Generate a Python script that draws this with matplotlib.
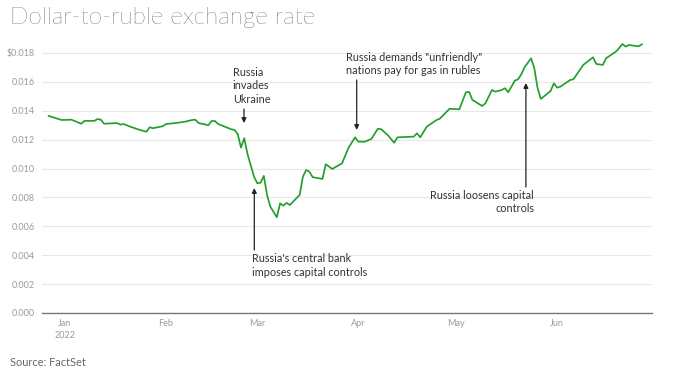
import matplotlib
matplotlib.use("Agg")
import matplotlib.pyplot as plt
import pandas as pd

# ---- data -------------------------------------------------------------
dates = [
    "2021-12-27", "2021-12-31", "2022-01-03", "2022-01-06", "2022-01-07", "2022-01-10",
    "2022-01-11", "2022-01-12", "2022-01-13", "2022-01-17", "2022-01-18", "2022-01-19",
    "2022-01-21", "2022-01-24", "2022-01-26", "2022-01-27", "2022-01-28", "2022-01-31",
    "2022-02-01", "2022-02-04", "2022-02-07", "2022-02-09", "2022-02-10", "2022-02-11",
    "2022-02-14", "2022-02-15", "2022-02-16", "2022-02-17", "2022-02-21", "2022-02-22",
    "2022-02-23", "2022-02-24", "2022-02-25", "2022-02-26", "2022-02-28", "2022-03-01",
    "2022-03-02", "2022-03-03", "2022-03-04", "2022-03-05", "2022-03-07", "2022-03-08",
    "2022-03-09", "2022-03-10", "2022-03-11", "2022-03-14", "2022-03-15", "2022-03-16",
    "2022-03-17", "2022-03-18", "2022-03-21", "2022-03-22", "2022-03-24", "2022-03-27",
    "2022-03-29", "2022-03-31", "2022-04-01", "2022-04-03", "2022-04-05", "2022-04-07",
    "2022-04-08", "2022-04-10", "2022-04-12", "2022-04-13", "2022-04-18", "2022-04-19",
    "2022-04-20", "2022-04-22", "2022-04-25", "2022-04-26", "2022-04-29", "2022-05-02",
    "2022-05-04", "2022-05-05", "2022-05-06", "2022-05-09", "2022-05-10", "2022-05-12",
    "2022-05-13", "2022-05-15", "2022-05-16", "2022-05-17", "2022-05-19", "2022-05-20",
    "2022-05-21", "2022-05-22", "2022-05-24", "2022-05-25", "2022-05-26", "2022-05-27",
    "2022-05-30", "2022-05-31", "2022-06-01", "2022-06-02", "2022-06-05", "2022-06-06",
    "2022-06-09", "2022-06-12", "2022-06-13", "2022-06-15", "2022-06-16", "2022-06-19",
    "2022-06-20", "2022-06-21", "2022-06-22", "2022-06-23", "2022-06-26", "2022-06-27",
]
rate = [
    0.01364, 0.01336, 0.01338, 0.01310, 0.01330, 0.01330,
    0.01343, 0.01338, 0.01310, 0.01315, 0.01304, 0.01308,
    0.01290, 0.01267, 0.01255, 0.01286, 0.01279, 0.01293,
    0.01308, 0.01315, 0.01325, 0.01336, 0.01338, 0.01315,
    0.01300, 0.01329, 0.01329, 0.01308, 0.01272, 0.01267,
    0.01239, 0.01145, 0.01210, 0.01100, 0.00944, 0.00898,
    0.00902, 0.00949, 0.00817, 0.00736, 0.00663, 0.00759,
    0.00743, 0.00762, 0.00748, 0.00817, 0.00944, 0.00990,
    0.00978, 0.00940, 0.00928, 0.01030, 0.00997, 0.01036,
    0.01144, 0.01216, 0.01186, 0.01186, 0.01205, 0.01276,
    0.01272, 0.01232, 0.01179, 0.01216, 0.01221, 0.01244,
    0.01216, 0.01290, 0.01336, 0.01345, 0.01414, 0.01410,
    0.01528, 0.01530, 0.01475, 0.01433, 0.01452, 0.01544,
    0.01532, 0.01544, 0.01556, 0.01528, 0.01608, 0.01618,
    0.01652, 0.01701, 0.01763, 0.01694, 0.01556, 0.01482,
    0.01537, 0.01590, 0.01560, 0.01567, 0.01613, 0.01618,
    0.01717, 0.01770, 0.01724, 0.01717, 0.01763, 0.01809,
    0.01833, 0.01862, 0.01844, 0.01855, 0.01846, 0.01860,
]
month_ticks = ["2022-01-01", "2022-02-01", "2022-03-01", "2022-04-01", "2022-05-01", "2022-06-01"]
month_labels = ["Jan\n2022", "Feb", "Mar", "Apr", "May", "Jun"]
y_ticks = [0.000, 0.002, 0.004, 0.006, 0.008, 0.010, 0.012, 0.014, 0.016, 0.018]
y_labels = ["0.000", "0.002", "0.004", "0.006", "0.008", "0.010", "0.012", "0.014", "0.016", "$0.018"]

# (text, text date, text value, ha, arrow tail date, tail value, tip date, tip value)
events = [
    ("Russia\ninvades\nUkraine", "2022-02-21 12:00", 0.01572, "left",
     "2022-02-24 22:00", 0.01412, "2022-02-24 22:00", 0.01315),
    ("Russia demands \"unfriendly\"\nnations pay for gas in rubles", "2022-03-28 05:00", 0.01724, "left",
     "2022-03-31 12:00", 0.01613, "2022-03-31 12:00", 0.01267),
    ("Russia's central bank\nimposes capital controls", "2022-02-27 07:00", 0.00329, "left",
     "2022-02-28 02:00", 0.00436, "2022-02-28 02:00", 0.00865),
    ("Russia loosens capital\ncontrols", "2022-05-24 22:00", 0.00768, "right",
     "2022-05-22 10:00", 0.00872, "2022-05-22 10:00", 0.01592),
]

# ---- figure -----------------------------------------------------------
plt.rcParams["font.family"] = ["Lato", "DejaVu Sans"]
fig = plt.figure(figsize=(6.8, 3.79), dpi=100)
ax = fig.add_axes([42 / 680, 66 / 379, 610 / 680, (313 - 31.3) / 379])

x = pd.to_datetime(dates)
ax.plot(x, rate, color="#23a02c", lw=1.25, solid_joinstyle="round", zorder=3)

base = pd.Timestamp("2022-01-01")
ax.set_xlim(base - pd.Timedelta(days=7.05), base + pd.Timedelta(days=180.1))
ax.set_ylim(0, 0.0195)

ax.set_yticks(y_ticks)
ax.set_yticklabels(y_labels)
ax.set_xticks(pd.to_datetime(month_ticks))
ax.set_xticklabels(month_labels, linespacing=1.45)
ax.tick_params(axis="both", length=0, labelsize=6.5, labelcolor="#9a9a9a")
ax.tick_params(axis="y", pad=5)
ax.tick_params(axis="x", pad=4)

ax.grid(axis="y", color="#e8e8e8", lw=0.8)
ax.set_axisbelow(True)
for s in ["top", "right", "left"]:
    ax.spines[s].set_visible(False)
ax.spines["bottom"].set_color("#777777")
ax.spines["bottom"].set_linewidth(1.0)
ax.set_facecolor("white")

for text, tx, ty, ha, ax0, ay0, ax1, ay1 in events:
    ax.text(pd.Timestamp(tx), ty, text, ha=ha, va="center", fontsize=7.8,
            color="#333333", linespacing=1.25, zorder=4)
    ax.annotate("", xy=(pd.Timestamp(ax1), ay1), xytext=(pd.Timestamp(ax0), ay0),
                arrowprops=dict(arrowstyle="-|>", color="#222222", lw=0.9,
                                mutation_scale=7, shrinkA=0, shrinkB=0), zorder=4)

fig.text(10 / 680, 1 - 18 / 379, "Dollar-to-ruble exchange rate", fontsize=17.5,
         fontweight="light", color="#111111", ha="left", va="center")
fig.text(10 / 680, 1 - 362 / 379, "Source: FactSet", fontsize=7.9,
         color="#666666", ha="left", va="center")

fig.savefig("out.png", dpi=100)
